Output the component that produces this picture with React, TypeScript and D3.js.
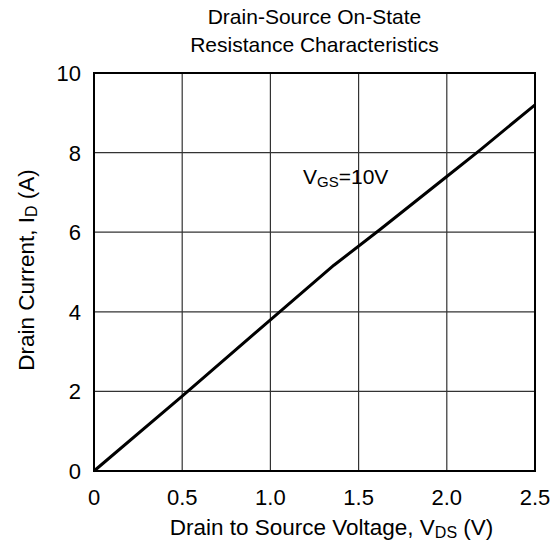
import * as d3 from "d3";

const VDS = [0, 0.5, 1.0, 1.36, 1.62, 2.0, 2.19, 2.5];
const ID = [0, 1.88, 3.8, 5.17, 6.06, 7.4, 8.07, 9.2];
const X_TICKS = [0, 0.5, 1.0, 1.5, 2.0, 2.5];
const Y_TICKS = [0, 2, 4, 6, 8, 10];

const W = 560;
const H = 545;
const M = { left: 94, right: 535, top: 73, bottom: 471 };
const FONT = "'Liberation Sans', Arial, sans-serif";

export default function App() {
  const x = d3.scaleLinear().domain([0, 2.5]).range([M.left, M.right]);
  const y = d3.scaleLinear().domain([0, 10]).range([M.bottom, M.top]);

  const line = d3
    .line<number>()
    .x((_, i) => x(VDS[i]))
    .y((d) => y(d));

  const midX = (M.left + M.right) / 2;
  const midY = (M.top + M.bottom) / 2;

  return (
    <svg
      width={W}
      height={H}
      style={{ position: "absolute", left: 0, top: 0, background: "#fff" }}
      fontFamily={FONT}
    >
      <text x={midX} y={24} fontSize={21} textAnchor="middle" fill="#000">
        Drain-Source On-State
      </text>
      <text x={midX} y={52} fontSize={21} textAnchor="middle" fill="#000">
        Resistance Characteristics
      </text>

      {/* grid */}
      {X_TICKS.slice(1, -1).map((t) => (
        <line key={"gx" + t} x1={x(t)} x2={x(t)} y1={M.top} y2={M.bottom} stroke="#333" strokeWidth={1.2} />
      ))}
      {Y_TICKS.slice(1, -1).map((t) => (
        <line key={"gy" + t} x1={M.left} x2={M.right} y1={y(t)} y2={y(t)} stroke="#333" strokeWidth={1.2} />
      ))}

      <path d={line(ID) ?? ""} fill="none" stroke="#000" strokeWidth={3} strokeLinejoin="round" />

      <rect
        x={M.left}
        y={M.top}
        width={M.right - M.left}
        height={M.bottom - M.top}
        fill="none"
        stroke="#000"
        strokeWidth={2}
      />

      {/* tick labels */}
      {X_TICKS.map((t) => (
        <text key={"tx" + t} x={x(t)} y={505} fontSize={22} textAnchor="middle" fill="#000">
          {t === 0 ? "0" : t.toFixed(1)}
        </text>
      ))}
      {Y_TICKS.map((t) => (
        <text key={"ty" + t} x={81} y={y(t) + 8} fontSize={22} textAnchor="end" fill="#000">
          {t}
        </text>
      ))}

      <text x={midX + 17} y={535} fontSize={22.5} textAnchor="middle" fill="#000">
        Drain to Source Voltage, V<tspan fontSize={16} dy={3}>DS</tspan>
        <tspan dy={-3}> (V)</tspan>
      </text>

      <text
        transform={`translate(34,${midY - 2}) rotate(-90)`}
        fontSize={22.5}
        textAnchor="middle"
        fill="#000"
      >
        Drain Current, I<tspan fontSize={16} dy={3}>D</tspan>
        <tspan dy={-3}> (A)</tspan>
      </text>

      <text x={303} y={184} fontSize={21} fill="#000">
        V<tspan fontSize={15} dy={3}>GS</tspan>
        <tspan dy={-3}>=10V</tspan>
      </text>
    </svg>
  );
}
